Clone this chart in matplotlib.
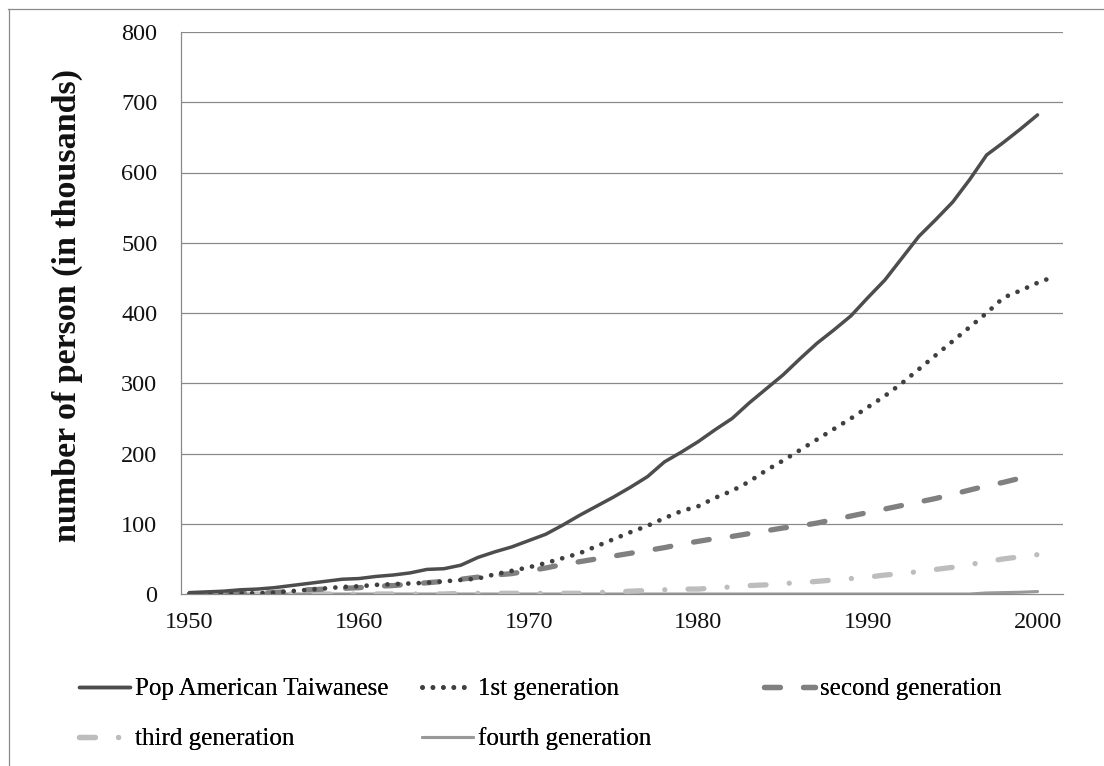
import numpy as np
import matplotlib
matplotlib.use("Agg")
import matplotlib.pyplot as plt
from matplotlib.lines import Line2D

plt.rcParams['font.family'] = ['Liberation Serif', 'DejaVu Serif']

# values (thousands of persons)
years = list(range(1950, 2001))
years_1st = list(range(1950, 2002))

pop_total = [2, 3, 4, 6, 7, 9, 12, 15, 18, 21,
             22, 25, 27, 30, 35, 36, 41, 52, 60, 67,
             76, 85, 98, 112, 125, 138, 152, 167, 188, 202,
             217, 234, 250, 272, 292, 312, 335, 357, 376, 396,
             422, 447, 478, 509, 533, 558, 590, 625, 643, 662,
             682]
gen_1st = [0, 0, 0, 1, 1, 2, 4, 6, 8, 10,
           11, 13, 14, 15, 16, 18, 20, 22, 28, 33,
           38, 44, 51, 58, 68, 78, 88, 97, 108, 118,
           125, 137, 147, 160, 176, 190, 205, 220, 235, 250,
           266, 282, 300, 320, 340, 360, 380, 400, 422, 432,
           443, 452]
gen_2nd = [0, 0, 0, 1, 1, 2, 4, 6, 7, 8,
           9, 11, 12, 14, 16, 18, 21, 24, 27, 29,
           33, 37, 42, 46, 50, 54, 58, 62, 66, 71,
           75, 79, 82, 86, 90, 94, 97, 101, 106, 111,
           116, 121, 126, 131, 136, 142, 148, 154, 159, 165,
           171]
gen_3rd = [0, 0, 0, 0, 0, 0, 0, 0, 0, 0,
           0, 0, 0, 0, 0, 0, 1, 1, 1, 1,
           1, 1, 1, 1, 2, 3, 4, 5, 6, 7,
           7, 9, 10, 12, 13, 15, 16, 18, 20, 22,
           24, 27, 29, 32, 35, 38, 42, 46, 50, 53,
           56]
gen_4th = [0] * 47 + [1.5, 2, 2.5, 3.5]

labels = ['Pop American Taiwanese', '1st generation', 'second generation',
          'third generation', 'fourth generation']

W, H = 1104, 766
fig = plt.figure(figsize=(W / 100, H / 100), dpi=100)
fig.patch.set_facecolor('white')

# plot area in pixels: left 181, right 1063, top 32, bottom 594
ax = fig.add_axes([181 / W, (H - 594) / H, 882 / W, 562 / H])

grid_c = '#8a8a8a'
for v in range(100, 900, 100):
    ax.axhline(v, color=grid_c, lw=0.9, zorder=0)

l4, = ax.plot(years, gen_4th, color='#999999', lw=2.2, solid_capstyle='round', zorder=2)
l3, = ax.plot(years, gen_3rd, color='#bdbdbd', lw=3.8,
              dashes=(3, 4.4, 0.01, 4.4), dash_capstyle='round', zorder=3)
l2, = ax.plot(years, gen_2nd, color='#808080', lw=3.8,
              dashes=(3, 4.4), dash_capstyle='round', zorder=4)
l1, = ax.plot(years_1st, gen_1st, color='#3f3f3f', lw=3.4,
              dashes=(0.01, 2.2), dash_capstyle='round', zorder=5)
l0, = ax.plot(years, pop_total, color='#4d4d4d', lw=2.5,
              solid_capstyle='round', zorder=6)

ax.set_xlim(1949.5, 2001.5)
ax.set_ylim(0, 800)
ax.set_xticks(range(1950, 2001, 10))
ax.set_yticks(range(0, 801, 100))
ax.tick_params(axis='both', length=0, labelsize=17.5, colors='#111111')
ax.tick_params(axis='y', pad=17)
ax.tick_params(axis='x', pad=13)
for s in ['top', 'right']:
    ax.spines[s].set_visible(False)
ax.spines['left'].set_color(grid_c)
ax.spines['bottom'].set_color(grid_c)
ax.spines['left'].set_linewidth(0.9)
ax.spines['bottom'].set_linewidth(0.9)

fig.text(67 / W, 1 - 306 / H, 'number of person (in thousands)', rotation=90,
         ha='center', va='center', fontsize=24.5, fontweight='bold', color='#111111')

# legend entries placed like the spreadsheet layout
handles = [l0, l1, l2, l3, l4]
spots = [(79, 689), (422, 689), (764, 689), (79, 739), (422, 739)]
for h, lab, (px, py) in zip(handles, labels, spots):
    lg = fig.legend(handles=[h], labels=[lab], loc='center left',
                    bbox_to_anchor=(px / W, 1 - py / H), frameon=False,
                    borderpad=0, borderaxespad=0, handlelength=2.05,
                    handletextpad=0.18, fontsize=18)
    fig.add_artist(lg)

# outer chart border (only top and left edges are visible in the crop)
fig.add_artist(Line2D([8 / W, 1.0], [1 - 8.5 / H, 1 - 8.5 / H], color='#8a8a8a', lw=0.9))
fig.add_artist(Line2D([8.5 / W, 8.5 / W], [0, 1 - 8.5 / H], color='#8a8a8a', lw=0.9))

fig.savefig('out.png', dpi=100, facecolor='white')
